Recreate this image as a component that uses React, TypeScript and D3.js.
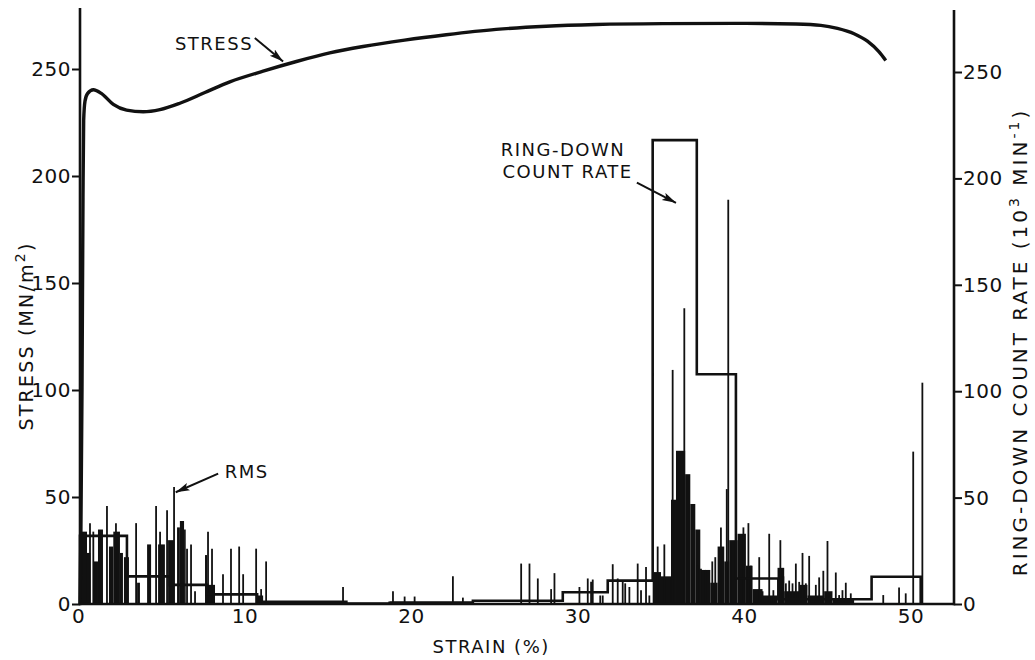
import { useEffect, useRef } from 'react';
import * as d3 from 'd3';

// stress-strain curve (strain %, MN/m^2)
const stressCurve: [number, number][] = [
  [0, 0], [0.05, 30], [0.12, 100], [0.18, 190], [0.22, 226], [0.3, 235], [0.45, 238.5],
  [0.8, 240.3], [1.3, 238.5], [2.0, 233.5], [2.8, 230.8], [3.8, 230], [4.8, 231], [6, 234],
  [7.5, 239], [9, 244], [11, 249], [13, 253.5], [15, 257.5], [17, 260.5], [19.5, 263.5],
  [22, 266], [25, 268.5], [28, 270], [31, 270.8], [35, 271.2], [40, 271.3], [43, 271],
  [44.5, 270.4], [45.5, 269], [46.5, 266.5], [47.3, 263], [48, 258], [48.4, 254],
];

// ring-down count rate histogram: [from, to, rate]
const ringDownSteps: [number, number, number][] = [
  [0, 2.82, 32], [2.82, 5.4, 13], [5.4, 7.63, 9], [7.63, 10.64, 4.5], [10.64, 16, 1],
  [16, 18.6, 0.2], [18.6, 23.6, 0.6], [23.6, 29, 1.5], [29, 31.7, 5.5], [31.7, 34.4, 11],
  [34.4, 37.05, 218], [37.05, 39.4, 108], [39.4, 41.95, 12], [41.95, 47.55, 2.2],
  [47.55, 50.5, 12.8],
];

// dense parts of the RMS trace: [from, to, level]
const rmsBlocks: [number, number, number][] = [
  [0.03, 0.42, 34], [0.42, 0.62, 24], [0.78, 1.08, 20], [1.08, 1.38, 35], [1.74, 2.0, 27],
  [2.0, 2.4, 34], [2.4, 2.58, 24], [2.64, 2.94, 22], [3.43, 3.6, 10], [4.03, 4.27, 28],
  [4.69, 5.1, 28], [5.29, 5.65, 30], [5.83, 6.0, 36], [6.0, 6.25, 39], [6.25, 6.35, 35],
  [7.51, 7.63, 23], [7.63, 8.11, 9], [10.6, 11.0, 4], [10.6, 16.0, 1], [18.6, 23.6, 1.2],
  [34.4, 34.9, 15], [34.9, 35.5, 13], [35.5, 35.8, 49], [35.8, 36.35, 72], [36.35, 36.66, 61],
  [36.66, 36.96, 47], [36.96, 37.26, 35], [37.26, 37.86, 16], [37.86, 38.3, 10],
  [38.3, 38.7, 27], [38.7, 39.0, 20], [39.0, 39.5, 30], [39.5, 40.0, 33], [40.0, 40.4, 18],
  [40.4, 41.0, 7], [41.0, 41.9, 4], [41.9, 42.3, 17], [42.3, 43.2, 6], [43.2, 43.7, 9],
  [43.7, 44.7, 4], [44.7, 45.2, 6], [45.2, 46.5, 2],
];

// isolated RMS spikes: [strain, level]
const rmsSpikes: [number, number][] = [
  [0.6, 38], [0.8, 34], [1.62, 46], [2.16, 38], [3.37, 38], [4.57, 46], [4.81, 34], [5.23, 44],
  [5.65, 55], [6.43, 26], [6.67, 28], [6.91, 6], [7.69, 34], [7.93, 26], [8.59, 14], [9.07, 26],
  [9.56, 27], [9.8, 14], [10.58, 26], [10.88, 7], [11.18, 20],
  [15.8, 8], [18.8, 6], [19.5, 3.5], [20.1, 3.5], [22.4, 13], [23.0, 3], [26.5, 19], [27.0, 19],
  [27.5, 12], [28.3, 7], [28.5, 14.5], [30.0, 8], [30.5, 12], [30.7, 10.5], [30.8, 11.5],
  [31.25, 4], [31.4, 4], [32.0, 18.7], [32.3, 12], [32.6, 10.4], [32.75, 9.7], [33.0, 8],
  [33.5, 19], [33.7, 6.5], [34.0, 17.4], [34.2, 4], [34.7, 27], [35.1, 28], [35.6, 110],
  [36.3, 139], [37.1, 18], [37.3, 16.6], [37.56, 16], [37.98, 20], [38.16, 22], [38.5, 36],
  [38.85, 54], [38.94, 190], [39.1, 29], [39.85, 36], [40.15, 38], [40.3, 18], [40.8, 22],
  [41.0, 6], [41.4, 33], [41.65, 6.5], [42.07, 30], [42.25, 13], [42.4, 9.7], [42.6, 11],
  [42.8, 9.7], [43.0, 19], [43.2, 10.4], [43.4, 24], [43.6, 9.7], [43.8, 22.6], [44.2, 9],
  [44.4, 12.5], [44.65, 15.6], [44.9, 29.6], [45.1, 4.7], [45.4, 14.8], [45.6, 4.2], [45.8, 6.5],
  [46.0, 10], [46.3, 5], [48.25, 4.2], [49.2, 7.8], [49.6, 5], [50.05, 71.6], [50.6, 104],
];

const stressTicks = [0, 50, 100, 150, 200, 250];
const rateTicks = [0, 50, 100, 150, 200, 250];
const strainTicks = [0, 10, 20, 30, 40, 50];

const INK = '#111';
const FONT = 'DejaVu Sans, sans-serif';

export default function App() {
  const svgRef = useRef<SVGSVGElement>(null);

  useEffect(() => {
    if (!svgRef.current) return;
    const svg = d3.select(svgRef.current);
    svg.selectAll('*').remove();

    const x = d3.scaleLinear().domain([0, 52.5]).range([80, 954]);
    const yS = d3.scaleLinear().domain([0, 250]).range([604, 69]);
    const yR = d3.scaleLinear().domain([0, 250]).range([604, 72]);

    svg.append('defs')
      .append('marker')
      .attr('id', 'arrow')
      .attr('markerUnits', 'userSpaceOnUse')
      .attr('markerWidth', 16)
      .attr('markerHeight', 10)
      .attr('refX', 14)
      .attr('refY', 4)
      .attr('orient', 'auto')
      .append('path')
      .attr('d', 'M0,0 L14,4 L0,8 L3,4 z')
      .attr('fill', INK);

    // RMS trace
    const rms = svg.append('g');
    rms.selectAll('rect')
      .data(rmsBlocks)
      .enter()
      .append('rect')
      .attr('x', (d) => x(d[0]))
      .attr('width', (d) => x(d[1]) - x(d[0]))
      .attr('y', (d) => yR(d[2]))
      .attr('height', (d) => yR(0) - yR(d[2]))
      .attr('fill', INK);
    rms.selectAll('line')
      .data(rmsSpikes)
      .enter()
      .append('line')
      .attr('x1', (d) => x(d[0]))
      .attr('x2', (d) => x(d[0]))
      .attr('y1', yR(0))
      .attr('y2', (d) => yR(d[1]))
      .attr('stroke', INK)
      .attr('stroke-width', 1.8);

    // ring-down histogram
    const stepPts: [number, number][] = [[0, 0]];
    ringDownSteps.forEach((s) => {
      stepPts.push([s[0], s[2]]);
      stepPts.push([s[1], s[2]]);
    });
    stepPts.push([ringDownSteps[ringDownSteps.length - 1][1], 0]);
    svg.append('path')
      .attr('d', d3.line<[number, number]>().x((d) => x(d[0])).y((d) => yR(d[1]))(stepPts))
      .attr('fill', 'none')
      .attr('stroke', INK)
      .attr('stroke-width', 2.6)
      .attr('stroke-linejoin', 'miter');

    // stress curve
    svg.append('path')
      .attr('d', d3.line<[number, number]>().x((d) => x(d[0])).y((d) => yS(d[1])).curve(d3.curveMonotoneX)(stressCurve))
      .attr('fill', 'none')
      .attr('stroke', INK)
      .attr('stroke-width', 3.4);

    // axes
    const axisLine = (x1: number, y1: number, x2: number, y2: number) =>
      svg.append('line').attr('x1', x1).attr('y1', y1).attr('x2', x2).attr('y2', y2)
        .attr('stroke', INK).attr('stroke-width', 2.6);
    axisLine(x(0), 8, x(0), yS(0) + 1.3);
    axisLine(x(52.5), 10, x(52.5), yS(0) + 1.3);
    axisLine(x(0), yS(0), x(52.5), yS(0));

    const styleAxis = (g: d3.Selection<SVGGElement, unknown, null, undefined>) => {
      g.select('.domain').remove();
      g.selectAll('.tick line').attr('stroke', INK).attr('stroke-width', 2);
      g.selectAll('.tick text')
        .attr('fill', INK)
        .attr('font-size', 20)
        .attr('font-family', FONT)
        .attr('letter-spacing', 0.5);
    };

    svg.append('g')
      .attr('transform', `translate(${x(0)},0)`)
      .call(d3.axisLeft(yS).tickValues(stressTicks).tickSize(8).tickPadding(1).tickSizeOuter(0))
      .call(styleAxis);

    svg.append('g')
      .attr('transform', `translate(${x(52.5)},0)`)
      .call(d3.axisRight(yR).tickValues(rateTicks).tickSize(8).tickPadding(1).tickSizeOuter(0))
      .call(styleAxis);

    svg.append('g')
      .attr('transform', `translate(0,${yS(0)})`)
      .call(d3.axisBottom(x).tickValues(strainTicks).tickSize(0).tickPadding(5).tickSizeOuter(0))
      .call(styleAxis)
      .selectAll('.tick text')
      .attr('dx', -2);

    const label = (tx: number, ty: number, txt: string, anchor = 'start') =>
      svg.append('text')
        .attr('x', tx)
        .attr('y', ty)
        .attr('text-anchor', anchor)
        .attr('fill', INK)
        .attr('font-size', 18)
        .attr('font-family', FONT)
        .attr('letter-spacing', 1.5)
        .text(txt);

    label(x(24.7), 653, 'STRAIN (%)', 'middle');

    // left title
    const lt = svg.append('text')
      .attr('transform', `translate(33,336) rotate(-90)`)
      .attr('text-anchor', 'middle')
      .attr('fill', INK)
      .attr('font-size', 19)
      .attr('font-family', FONT)
      .attr('letter-spacing', 2.2);
    lt.append('tspan').text('STRESS (MN/m');
    lt.append('tspan').attr('dy', -8).attr('font-size', 14).text('2');
    lt.append('tspan').attr('dy', 8).text(')');

    // right title
    const rt = svg.append('text')
      .attr('transform', `translate(1027,342) rotate(-90)`)
      .attr('text-anchor', 'middle')
      .attr('fill', INK)
      .attr('font-size', 20)
      .attr('font-family', FONT)
      .attr('letter-spacing', 3);
    rt.append('tspan').text('RING-DOWN COUNT RATE (10');
    rt.append('tspan').attr('dy', -8).attr('font-size', 14).text('3');
    rt.append('tspan').attr('dy', 8).text(' MIN');
    rt.append('tspan').attr('dy', -8).attr('font-size', 14).text('-1');
    rt.append('tspan').attr('dy', 8).text(')');

    // annotations
    const arrow = (x1: number, y1: number, x2: number, y2: number) =>
      svg.append('line')
        .attr('x1', x1).attr('y1', y1).attr('x2', x2).attr('y2', y2)
        .attr('stroke', INK).attr('stroke-width', 2)
        .attr('marker-end', 'url(#arrow)');

    label(x(8.05), yS(259), 'STRESS', 'middle');
    arrow(x(10.5), yS(264.5), x(12.2), yS(253.5));

    label(x(8.7), yR(59.4), 'RMS');
    arrow(x(8.3), yR(61.3), x(5.75), yR(52.5));

    label(x(32.75), yR(210.5), 'RING-DOWN', 'end');
    label(x(33.2), yR(200), 'COUNT RATE', 'end');
    arrow(x(33.45), yR(198), x(35.8), yR(188.5));
  }, []);

  return (
    <svg
      ref={svgRef}
      width={1035}
      height={660}
      style={{ position: 'absolute', left: 0, top: 0, background: '#fff' }}
    />
  );
}
